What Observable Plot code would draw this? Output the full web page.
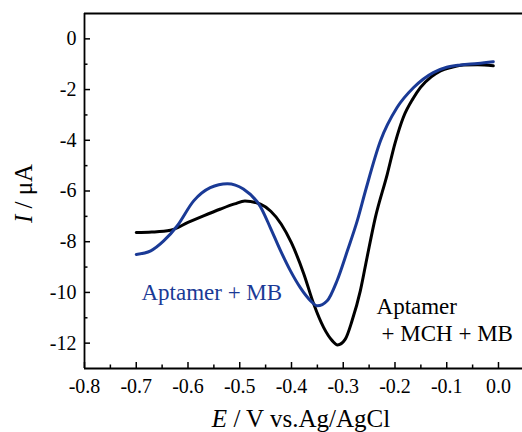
<!DOCTYPE html>
<html><head><meta charset="utf-8">
<script src="https://cdn.jsdelivr.net/npm/d3@7"></script>
<script src="https://cdn.jsdelivr.net/npm/@observablehq/plot@0.6"></script>
<style>body{margin:0;background:#fff} svg{display:block}</style>
</head><body><div id="chart"></div>
<script>
const seriesNames = ["Aptamer + MCH + MB", "Aptamer + MB"];
const seriesColors = ["#000000", "#1a3a96"];

// Aptamer + MCH + MB (black)
const potentialBlack = [-0.70,-0.67,-0.634,-0.60,-0.57,-0.537,-0.51,-0.49,-0.46,-0.44,-0.42,-0.40,-0.376,-0.357,-0.338,-0.321,-0.311,-0.296,-0.283,-0.267,-0.254,-0.238,-0.215,-0.20,-0.184,-0.165,-0.151,-0.13,-0.112,-0.09,-0.068,-0.04,-0.01];
const currentBlack   = [-7.64,-7.62,-7.55,-7.24,-6.98,-6.71,-6.51,-6.39,-6.52,-6.80,-7.30,-8.05,-9.28,-10.46,-11.38,-11.91,-12.07,-11.84,-11.12,-9.94,-8.62,-7.05,-5.34,-4.12,-3.10,-2.35,-1.92,-1.50,-1.26,-1.12,-1.03,-1.02,-1.06];

// Aptamer + MB (blue)
const potentialBlue = [-0.70,-0.672,-0.647,-0.621,-0.589,-0.557,-0.524,-0.493,-0.46,-0.441,-0.421,-0.402,-0.383,-0.363,-0.35,-0.331,-0.312,-0.292,-0.273,-0.257,-0.228,-0.196,-0.164,-0.126,-0.10,-0.073,-0.04,-0.01];
const currentBlue   = [-8.50,-8.36,-7.97,-7.38,-6.39,-5.87,-5.71,-5.92,-6.62,-7.44,-8.36,-9.15,-9.81,-10.33,-10.53,-10.33,-9.54,-8.36,-7.18,-5.99,-4.02,-2.71,-1.92,-1.33,-1.12,-1.03,-0.97,-0.90];

const xMajorTicks = [-0.8,-0.7,-0.6,-0.5,-0.4,-0.3,-0.2,-0.1,0.0];
const xMinorTicks = [-0.75,-0.65,-0.55,-0.45,-0.35,-0.25,-0.15,-0.05];
const yMajorTicks = [0,-2,-4,-6,-8,-10,-12];
const yMinorTicks = [-1,-3,-5,-7,-9,-11];

const labelText  = ["Aptamer + MB", "Aptamer", "+ MCH + MB"];
const labelE     = [-0.690, -0.2357, -0.226];
const labelI     = [-10.28, -10.84, -11.91];
const labelColor = ["#1a3a96", "#000000", "#000000"];

const xTitleItalic = "E", xTitleRest = " / V vs.Ag/AgCl";
const yTitleItalic = "I", yTitleRest = " / μA";

const data = [
  ...potentialBlack.map((e, i) => ({series: seriesNames[0], E: e, I: currentBlack[i]})),
  ...potentialBlue.map((e, i) => ({series: seriesNames[1], E: e, I: currentBlue[i]}))
];
const labels = labelText.map((t, i) => ({t, E: labelE[i], I: labelI[i], c: labelColor[i]}));

const font = "Liberation Serif";

const plot = Plot.plot({
  width: 522, height: 432,
  marginLeft: 84, marginRight: 0, marginTop: 13, marginBottom: 64,
  style: {fontFamily: font, background: "white", color: "black"},
  x: {domain: [-0.8, 0.0464]},
  y: {domain: [-13, 1]},
  color: {domain: seriesNames, range: seriesColors},
  marks: [
    Plot.axisX({ticks: xMajorTicks, tickSize: -6, fill: "none", strokeWidth: 1.5}),
    Plot.axisX({ticks: xMinorTicks, tickSize: -3.5, fill: "none", strokeWidth: 1.5}),
    Plot.axisY({ticks: yMajorTicks, tickSize: -6, fill: "none", strokeWidth: 1.5}),
    Plot.axisY({ticks: yMinorTicks, tickSize: -3.5, fill: "none", strokeWidth: 1.5}),
    Plot.axisX({ticks: xMajorTicks, tickSize: 0, tickPadding: 10, fontSize: 20, fontFamily: font, label: null, tickFormat: d => d.toFixed(1)}),
    Plot.axisY({ticks: yMajorTicks, tickSize: 0, tickPadding: 8, fontSize: 20, fontFamily: font, label: null, tickFormat: d => String(d)}),
    Plot.ruleX([-0.8], {strokeWidth: 1.8}),
    Plot.ruleY([-13], {strokeWidth: 1.8}),
    Plot.ruleY([1], {strokeWidth: 1.8}),
    Plot.line(data, {x: "E", y: "I", z: "series", stroke: "series", strokeWidth: 3, curve: "monotone-x"}),
    Plot.text(labels, {x: "E", y: "I", text: "t", fill: "c", fontSize: 23, fontFamily: font, textAnchor: "start", lineAnchor: "bottom"})
  ]
});

document.getElementById("chart").append(plot);
const svg = d3.select(plot);
const NS = "http://www.w3.org/2000/svg";

// Lift Plot's text elements to the svg root with explicit attributes (same structure as the axis titles)
[...plot.querySelectorAll("g text")].forEach(t => {
  const m = t.getCTM();
  const cs = getComputedStyle(t);
  const n = document.createElementNS(NS, "text");
  n.setAttribute("transform", `matrix(${m.a},${m.b},${m.c},${m.d},${m.e},${m.f})`);
  n.setAttribute("font-size", parseFloat(cs.fontSize));
  n.setAttribute("text-anchor", cs.textAnchor);
  n.setAttribute("fill", cs.fill);
  n.setAttribute("font-family", font);
  ["x", "y", "dx", "dy"].forEach(a => { if (t.hasAttribute(a)) n.setAttribute(a, t.getAttribute(a)); });
  const ts = document.createElementNS(NS, "tspan");
  ts.textContent = t.textContent;
  n.appendChild(ts);
  plot.appendChild(n);
  t.remove();
});

const xs = plot.scale("x"), ys = plot.scale("y");
const cx = (xs.range[0] + xs.range[1]) / 2 - 2;
const cy = (ys.range[0] + ys.range[1]) / 2 + 3;

const xt = svg.append("text")
  .attr("x", cx).attr("y", 427)
  .attr("text-anchor", "middle").attr("font-size", 25).attr("font-family", font).attr("fill", "black");
xt.append("tspan").attr("font-style", "italic").text(xTitleItalic);
xt.append("tspan").text(xTitleRest);

const yt = svg.append("text")
  .attr("transform", `translate(32,${cy}) rotate(-90)`)
  .attr("text-anchor", "middle").attr("font-size", 25).attr("font-family", font).attr("fill", "black");
yt.append("tspan").attr("font-style", "italic").text(yTitleItalic);
yt.append("tspan").text(yTitleRest);
</script>
</body></html>
